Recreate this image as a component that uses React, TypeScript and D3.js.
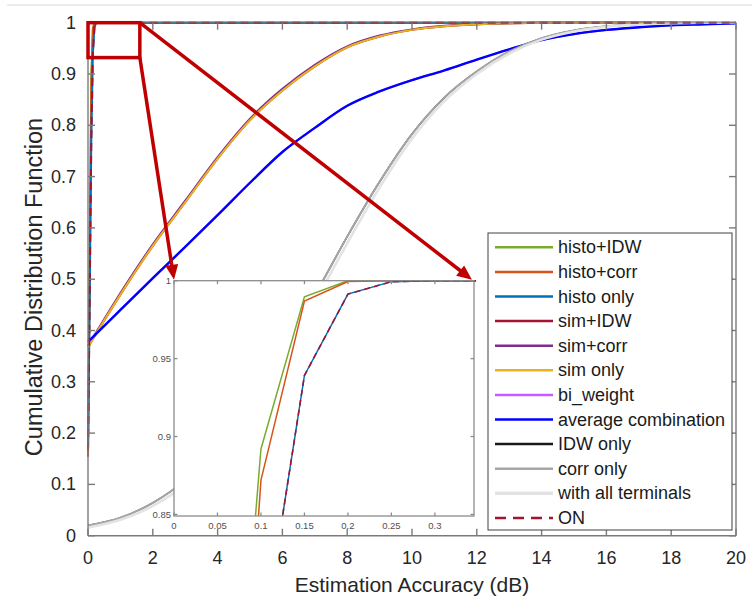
import React from 'react';
import * as d3 from 'd3';

// ---------- data ----------
const xTicks = [0, 2, 4, 6, 8, 10, 12, 14, 16, 18, 20];
const yTicks = [0, 0.1, 0.2, 0.3, 0.4, 0.5, 0.6, 0.7, 0.8, 0.9, 1];
const insetXTicks = [0, 0.05, 0.1, 0.15, 0.2, 0.25, 0.3];
const insetYTicks = [0.85, 0.9, 0.95, 1];

// fine grid for the histogram-based estimators (dB)
const stepX = [0, 0.05, 0.1, 0.15, 0.2, 0.25, 0.3, 0.35, 20];
const histoIdw = [0.16, 0.55, 0.892, 0.9897, 1, 1, 1, 1, 1];
const histoCorr = [0.154, 0.465, 0.872, 0.987, 0.9995, 1, 1, 1, 1];
const histoOnly = [0.167, 0.45, 0.76, 0.9392, 0.9914, 0.9994, 1, 1, 1];
const onValues = [0.167, 0.45, 0.76, 0.9392, 0.9914, 0.9994, 1, 1, 1];

// coarse grid for the other estimators (dB)
const smoothX = [0, 1, 2, 3, 4, 5, 6, 7, 8, 9, 10, 11, 12, 13, 14, 15, 16, 17, 18, 19, 20];
const simIdw = [0.368, 0.47, 0.565, 0.65, 0.735, 0.81, 0.868, 0.915, 0.952, 0.973, 0.986, 0.993, 0.997, 0.999, 1, 1, 1, 1, 1, 1, 1];
const simCorr = [0.37, 0.473, 0.568, 0.653, 0.738, 0.813, 0.871, 0.918, 0.954, 0.975, 0.987, 0.994, 0.997, 0.999, 1, 1, 1, 1, 1, 1, 1];
const simOnly = [0.368, 0.47, 0.565, 0.65, 0.735, 0.81, 0.868, 0.915, 0.952, 0.973, 0.986, 0.993, 0.997, 0.999, 1, 1, 1, 1, 1, 1, 1];
const biWeight = [0.378, 0.44, 0.502, 0.563, 0.625, 0.688, 0.748, 0.795, 0.838, 0.866, 0.888, 0.907, 0.928, 0.948, 0.966, 0.978, 0.986, 0.991, 0.995, 0.997, 0.999];
const avgComb = [0.378, 0.44, 0.502, 0.563, 0.625, 0.688, 0.748, 0.795, 0.838, 0.866, 0.888, 0.907, 0.928, 0.948, 0.966, 0.978, 0.986, 0.991, 0.995, 0.997, 0.999];
const idwOnly = [0.02, 0.035, 0.064, 0.108, 0.172, 0.255, 0.356, 0.468, 0.583, 0.69, 0.783, 0.854, 0.905, 0.944, 0.970, 0.985, 0.993, 0.997, 0.999, 1, 1];
const corrOnly = [0.02, 0.035, 0.064, 0.108, 0.172, 0.255, 0.356, 0.468, 0.583, 0.69, 0.783, 0.854, 0.905, 0.944, 0.970, 0.985, 0.993, 0.997, 0.999, 1, 1];
const allTerminals = [0.016, 0.031, 0.058, 0.1, 0.163, 0.244, 0.343, 0.455, 0.57, 0.679, 0.774, 0.847, 0.9, 0.94, 0.967, 0.983, 0.992, 0.997, 0.999, 1, 1];

const seriesNames = ['histo+IDW', 'histo+corr', 'histo only', 'sim+IDW', 'sim+corr', 'sim only', 'bi_weight', 'average combination', 'IDW only', 'corr only', 'with all terminals', 'ON'];
const seriesColors = ['#77AC30', '#D95319', '#0072BD', '#A2142F', '#7E2F8E', '#EDB120', '#C75BFF', '#0000FF', '#1a1a1a', '#A6A6A6', '#E3E3E3', '#A2142F'];

// zoom box in data units
const zoomBoxX = [0, 1.6];
const zoomBoxY = [0.932, 1];

// ---------- layout ----------
const W = 755;
const H = 603;
const M = { left: 88, right: 736, top: 22.7, bottom: 535.7 };
const INS = { left: 174, right: 474, top: 280.7, bottom: 516 };
const FONT = '"Liberation Sans", Arial, Helvetica, sans-serif';

export default function App() {
  const x = d3.scaleLinear().domain([0, 20]).range([M.left, M.right]);
  const y = d3.scaleLinear().domain([0, 1]).range([M.bottom, M.top]);
  const xi = d3.scaleLinear().domain([0, 0.345]).range([INS.left, INS.right]);
  const yi = d3.scaleLinear().domain([0.849, 1]).range([INS.bottom, INS.top]);

  const all = [
    { xs: stepX, ys: histoIdw, i: 0, smooth: false },
    { xs: stepX, ys: histoCorr, i: 1, smooth: false },
    { xs: stepX, ys: histoOnly, i: 2, smooth: false },
    { xs: smoothX, ys: simIdw, i: 3, smooth: true },
    { xs: smoothX, ys: simCorr, i: 4, smooth: true },
    { xs: smoothX, ys: simOnly, i: 5, smooth: true },
    { xs: smoothX, ys: biWeight, i: 6, smooth: true },
    { xs: smoothX, ys: avgComb, i: 7, smooth: true },
    { xs: smoothX, ys: idwOnly, i: 8, smooth: true, w: 1.5 },
    { xs: smoothX, ys: corrOnly, i: 9, smooth: true },
    { xs: smoothX, ys: allTerminals, i: 10, smooth: true, w: 2.6 },
    { xs: stepX, ys: onValues, i: 11, smooth: false, dash: '8,5' },
  ] as { xs: number[]; ys: number[]; i: number; smooth: boolean; w?: number; dash?: string }[];

  const mkLine = (sx: any, sy: any, smooth: boolean) =>
    d3.line<[number, number]>()
      .x((d) => sx(d[0]))
      .y((d) => sy(d[1]))
      .curve(smooth ? d3.curveMonotoneX : d3.curveLinear);

  const pairs = (xs: number[], ys: number[]) => xs.map((v, k) => [v, ys[k]] as [number, number]);

  const widthOf = (s: any) => (s.w ? s.w : s.i === 7 ? 2.4 : 2);

  // annotation geometry
  const bx0 = x(zoomBoxX[0]);
  const bx1 = x(zoomBoxX[1]);
  const by0 = y(zoomBoxY[1]);
  const by1 = y(zoomBoxY[0]);
  const arrow = (x0: number, y0: number, x1: number, y1: number, key: string) => {
    const L = 15;
    const hw = 6.5;
    const dx = x1 - x0;
    const dy = y1 - y0;
    const len = Math.hypot(dx, dy);
    const ux = dx / len;
    const uy = dy / len;
    const bxp = x1 - ux * L;
    const byp = y1 - uy * L;
    const px = -uy;
    const py = ux;
    return (
      <g key={key}>
        <line x1={x0} y1={y0} x2={bxp + ux * 2} y2={byp + uy * 2} stroke="#C00000" strokeWidth={3.5} />
        <polygon
          points={`${x1},${y1} ${bxp + px * hw},${byp + py * hw} ${bxp - px * hw},${byp - py * hw}`}
          fill="#C00000"
        />
      </g>
    );
  };

  const legendTop = 233;
  const legendRow0 = 247.3;
  const legendStep = 24.6;

  const fmt = (v: number) => String(+v.toFixed(2));

  return (
    <svg width={W} height={H} style={{ position: 'absolute', left: 0, top: 0, background: '#fff' }}>
      <rect x={0} y={0} width={W} height={H} fill="#fff" />
      <line x1={7} x2={752} y1={5} y2={5} stroke="#dcdcdc" strokeWidth={1.2} />
      <defs>
        <clipPath id="mainClip">
          <rect x={M.left - 2} y={M.top - 2} width={M.right - M.left + 4} height={M.bottom - M.top + 2} />
        </clipPath>
        <clipPath id="insClip">
          <rect x={INS.left} y={INS.top - 2} width={INS.right - INS.left + 2} height={INS.bottom - INS.top + 2} />
        </clipPath>
      </defs>

      {/* main series */}
      <g clipPath="url(#mainClip)">
        {all.map((s) => (
          <path
            key={'m' + s.i}
            d={mkLine(x, y, s.smooth)(pairs(s.xs, s.ys)) || ''}
            fill="none"
            stroke={seriesColors[s.i]}
            strokeWidth={widthOf(s)}
            strokeDasharray={s.dash}
            strokeLinejoin="round"
          />
        ))}
      </g>

      {/* main axis lines and ticks */}
      <g stroke="#7a7a7a" strokeWidth={1.4} fill="none">
        <line x1={M.left} x2={M.right} y1={M.bottom} y2={M.bottom} />
        <line x1={M.left} x2={M.left} y1={M.top} y2={M.bottom} />
        <line x1={M.right} x2={M.right} y1={M.top} y2={M.bottom} />
        <line x1={M.left} x2={M.right} y1={M.top} y2={M.top} strokeOpacity={0.6} />
        {xTicks.map((t) => (
          <g key={'xt' + t}>
            <line x1={x(t)} x2={x(t)} y1={M.bottom} y2={M.bottom - 7} />
            <line x1={x(t)} x2={x(t)} y1={M.top} y2={M.top + 7} />
          </g>
        ))}
        {yTicks.map((t) => (
          <g key={'yt' + t}>
            <line x1={M.left} x2={M.left + 7} y1={y(t)} y2={y(t)} />
            <line x1={M.right} x2={M.right - 7} y1={y(t)} y2={y(t)} />
          </g>
        ))}
      </g>
      <g fontFamily={FONT} fontSize={18} fill="#262626">
        {xTicks.map((t) => (
          <text key={'xl' + t} x={x(t)} y={M.bottom + 28.5} textAnchor="middle">{fmt(t)}</text>
        ))}
        {yTicks.map((t) => (
          <text key={'yl' + t} x={M.left - 12} y={y(t)} textAnchor="end" dominantBaseline="central">{fmt(t)}</text>
        ))}
        <text x={(M.left + M.right) / 2} y={592} textAnchor="middle" fontSize={21}>Estimation Accuracy (dB)</text>
        <text transform={`translate(42,287) rotate(-90)`} textAnchor="middle" fontSize={23.5}>Cumulative Distribution Function</text>
      </g>

      {/* inset */}
      <rect x={INS.left} y={INS.top} width={INS.right - INS.left} height={INS.bottom - INS.top} fill="#fff" />
      <g clipPath="url(#insClip)">
        {all.map((s) => (
          <path
            key={'i' + s.i}
            d={mkLine(xi, yi, false)(pairs(s.xs, s.ys)) || ''}
            fill="none"
            stroke={seriesColors[s.i]}
            strokeWidth={s.i === 11 ? 1.6 : 1.5}
            strokeDasharray={s.dash ? '6,4' : undefined}
          />
        ))}
      </g>
      <g stroke="#8c8c8c" strokeWidth={1.3} fill="none">
        <rect x={INS.left} y={INS.top} width={INS.right - INS.left} height={INS.bottom - INS.top} />
        {insetXTicks.map((t) => (
          <g key={'ixt' + t}>
            <line x1={xi(t)} x2={xi(t)} y1={INS.bottom} y2={INS.bottom - 3.5} />
            <line x1={xi(t)} x2={xi(t)} y1={INS.top} y2={INS.top + 3.5} />
          </g>
        ))}
        {insetYTicks.map((t) => (
          <g key={'iyt' + t}>
            <line x1={INS.left} x2={INS.left + 3.5} y1={yi(t)} y2={yi(t)} />
            <line x1={INS.right} x2={INS.right - 3.5} y1={yi(t)} y2={yi(t)} />
          </g>
        ))}
      </g>
      <g fontFamily={FONT} fontSize={9.5} fill="#505050">
        {insetXTicks.map((t) => (
          <text key={'ixl' + t} x={xi(t)} y={INS.bottom + 13} textAnchor="middle">{fmt(t)}</text>
        ))}
        {insetYTicks.map((t) => (
          <text key={'iyl' + t} x={INS.left - 3} y={yi(t)} textAnchor="end" dominantBaseline="central">{fmt(t)}</text>
        ))}
      </g>

      {/* legend */}
      <rect x={488} y={legendTop} width={244} height={297} fill="#fff" stroke="#404040" strokeWidth={1} />
      <g fontFamily={FONT} fontSize={18} fill="#1a1a1a">
        {seriesNames.map((n, k) => {
          const ly = legendRow0 + k * legendStep;
          return (
            <g key={'lg' + k}>
              <line
                x1={495}
                x2={553}
                y1={ly}
                y2={ly}
                stroke={seriesColors[k]}
                strokeWidth={k === 10 ? 3.5 : 2.5}
                strokeDasharray={k === 11 ? '11,7' : undefined}
              />
              <text x={558} y={ly} dominantBaseline="central">{n}</text>
            </g>
          );
        })}
      </g>

      {/* zoom annotation */}
      <rect x={bx0} y={by0} width={bx1 - bx0} height={by1 - by0} fill="none" stroke="#C00000" strokeWidth={3.5} />
      {arrow(bx1, by1, INS.left, INS.top - 1, 'a1')}
      {arrow(bx1, by0, INS.right - 2, INS.top - 1, 'a2')}
    </svg>
  );
}
